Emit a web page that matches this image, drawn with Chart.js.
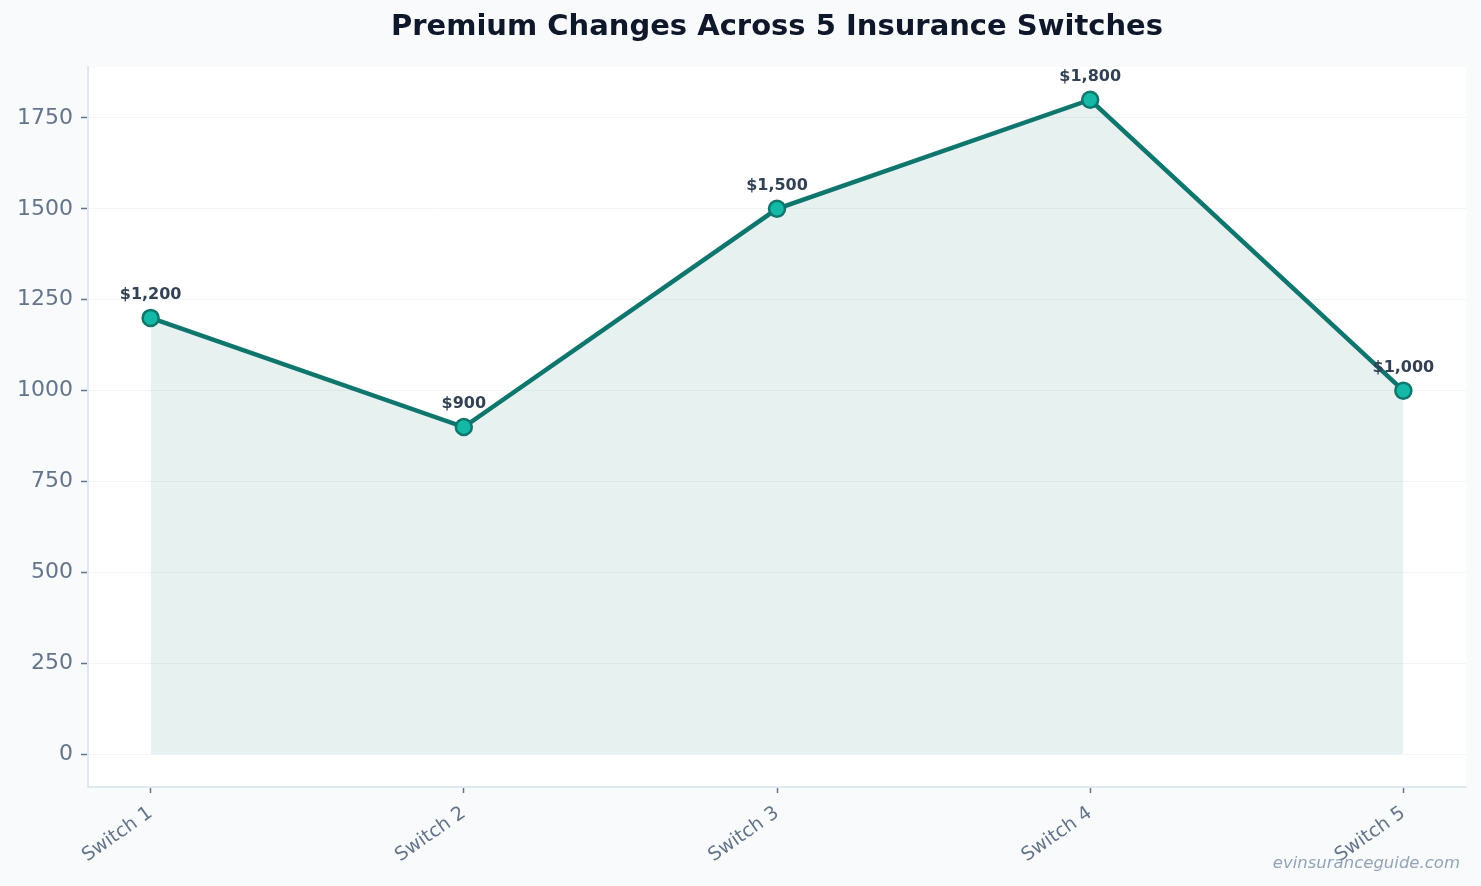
<!DOCTYPE html>
<html lang="en">
<head>
  <meta charset="UTF-8">
  <title>Premium Changes Across 5 Insurance Switches</title>
  <script src="https://cdn.jsdelivr.net/npm/chart.js@4.4.1/dist/chart.umd.min.js"></script>
  <style>
    html, body {
      margin: 0;
      padding: 0;
      background: #f8fafc;
    }
    .wrap {
      width: 1481px;
      height: 886px;
      position: relative;
    }
  </style>
</head>
<body>
  <div class="wrap">
    <canvas id="premiumChart"></canvas>
  </div>
  <script>
    // data
    const switchLabels = ['Switch 1', 'Switch 2', 'Switch 3', 'Switch 4', 'Switch 5'];
    const premiums = [1200, 900, 1500, 1800, 1000];
    const yTickValues = [0, 250, 500, 750, 1000, 1250, 1500, 1750];

    const titleText = 'Premium Changes Across 5 Insurance Switches';
    const watermark = 'evinsuranceguide.com';

    const teal = '#0f766e';
    const tealLight = '#14b8a6';
    const tickGray = '#64748b';

    // draws plot background, title, point labels and the watermark
    const decorations = {
      id: 'decorations',
      beforeDraw(chart) {
        const { ctx, chartArea } = chart;
        ctx.save();
        ctx.fillStyle = '#f8fafc';
        ctx.fillRect(0, 0, chart.width, chart.height);
        ctx.fillStyle = '#ffffff';
        ctx.fillRect(chartArea.left, chartArea.top, chartArea.right - chartArea.left, chartArea.bottom - chartArea.top);
        ctx.restore();
      },
      afterDraw(chart) {
        const { ctx, chartArea } = chart;
        ctx.save();
        ctx.fillStyle = '#0f172a';
        ctx.font = 'bold 29px "DejaVu Sans"';
        ctx.textAlign = 'center';
        ctx.textBaseline = 'middle';
        ctx.fillText(titleText, (chartArea.left + chartArea.right) / 2, 27);

        const meta = chart.getDatasetMeta(0);
        ctx.fillStyle = '#334155';
        ctx.font = 'bold 16px "DejaVu Sans"';
        ctx.textBaseline = 'alphabetic';
        meta.data.forEach((pt, i) => {
          ctx.fillText('$' + premiums[i].toLocaleString('en-US'), pt.x, pt.y - 19);
        });

        ctx.fillStyle = '#94a3b8';
        ctx.font = 'italic 16.5px "DejaVu Sans"';
        ctx.textAlign = 'right';
        ctx.fillText(watermark, 1460, 868);
        ctx.restore();
      }
    };

    const ctx = document.getElementById('premiumChart').getContext('2d');
    const premiumChart = new Chart(ctx, {
      type: 'line',
      data: {
        datasets: [{
          data: premiums.map((v, i) => ({ x: i, y: v })),
          borderColor: teal,
          borderWidth: 4.5,
          backgroundColor: 'rgba(15, 118, 110, 0.1)',
          fill: 'origin',
          tension: 0,
          pointRadius: 8,
          pointHoverRadius: 8,
          pointBackgroundColor: tealLight,
          pointBorderColor: teal,
          pointBorderWidth: 2.5
        }]
      },
      options: {
        responsive: true,
        maintainAspectRatio: false,
        animation: false,
        layout: {
          padding: { top: 67, right: 15, left: 0, bottom: 0 }
        },
        plugins: {
          legend: { display: false },
          tooltip: { enabled: false }
        },
        scales: {
          x: {
            type: 'linear',
            min: -0.2,
            max: 4.2,
            afterBuildTicks(axis) {
              axis.ticks = switchLabels.map((_, i) => ({ value: i }));
            },
            afterFit(axis) {
              axis.height = 886 - 787;
            },
            border: { color: '#e2e8f0', width: 2 },
            grid: {
              drawOnChartArea: false,
              drawTicks: true,
              tickLength: 6,
              tickColor: tickGray,
              tickWidth: 1.5
            },
            ticks: {
              autoSkip: false,
              minRotation: 35,
              maxRotation: 35,
              padding: 9,
              color: tickGray,
              font: { family: 'DejaVu Sans', size: 19 },
              callback: (v) => switchLabels[v]
            }
          },
          y: {
            min: -90,
            max: 1890,
            afterBuildTicks(axis) {
              axis.ticks = yTickValues.map(v => ({ value: v }));
            },
            afterFit(axis) {
              axis.width = 88;
            },
            border: { color: '#e2e8f0', width: 2 },
            grid: {
              color: '#f1f5f9',
              lineWidth: 1,
              drawTicks: true,
              tickLength: 7,
              tickColor: tickGray,
              tickWidth: 1.5
            },
            ticks: {
              padding: 8,
              color: tickGray,
              font: { family: 'DejaVu Sans', size: 22 },
              callback: (v) => String(v)
            }
          }
        }
      },
      plugins: [decorations]
    });
  </script>
</body>
</html>
